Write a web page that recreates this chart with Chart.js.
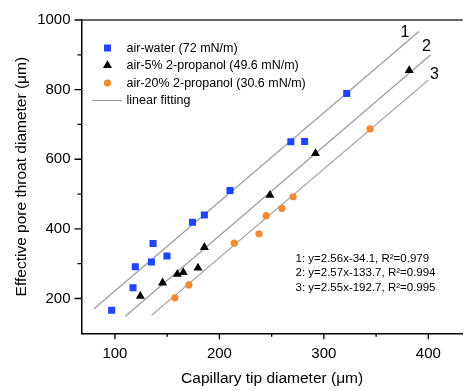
<!DOCTYPE html>
<html><head><meta charset="utf-8">
<script src="https://cdn.jsdelivr.net/npm/chart.js@4"></script>
<style>html,body{margin:0;padding:0;background:#fff;overflow:hidden}#wrap{position:relative;width:468px;height:391px}</style>
</head><body><div id="wrap"><canvas id="c"></canvas></div>
<script>
const waterX = [96.9,117.3,119.5,134.9,136.5,149.8,174.3,185.6,210.2,268.4,281.6,321.9];
const waterY = [166,231,291,305,358,322,419,440,510,650,651,789];
const prop5X = [124.3,145.6,159.8,165.4,179.5,185.6,248.4,292.0,381.7];
const prop5Y = [207,245,270,275,288,347,497,617,855];
const prop20X = [157.3,170.8,214.3,237.9,244.8,259.9,270.6,344.3];
const prop20Y = [202,239,359,386,438,459,492,687];
const fitSlope = [2.56,2.57,2.55];
const fitIntercept = [-34.1,-133.7,-192.7];
const fitR2 = ['0.979','0.994','0.995'];
const fitXStart = [80,110,135];
const fitXEnd = [391,402,400];
const seriesNames = ['air-water (72 mN/m)','air-5% 2-propanol (49.6 mN/m)','air-20% 2-propanol (30.6 mN/m)','linear fitting'];
const xTicks = [100,200,300,400];
const xMinorTicks = [150,250,350];
const yTicks = [200,400,600,800,1000];
const yMinorTicks = [300,500,700,900];

const FONT = "'Liberation Sans', Arial, sans-serif";
const BLUE = '#1f45ff', ORANGE = '#f5892f', GRAY = '#9c9c9c';

const pts = (xs, ys) => xs.map((x, i) => ({x, y: ys[i]}));
const fitDatasets = fitSlope.map((m, i) => ({
  type: 'line',
  data: [fitXStart[i], fitXEnd[i]].map(x => ({x, y: m * x + fitIntercept[i]})),
  borderColor: GRAY, borderWidth: 1.2, pointRadius: 0, fill: false, order: 5
}));

function marker(ctx, kind, x, y) {
  ctx.save();
  ctx.beginPath();
  if (kind === 'rect') { ctx.fillStyle = BLUE; ctx.rect(x - 3.5, y - 3.5, 7, 7); }
  else if (kind === 'tri') { const r = 5.2; ctx.fillStyle = '#000';
    ctx.moveTo(x, y - r); ctx.lineTo(x + r * 0.866, y + r / 2); ctx.lineTo(x - r * 0.866, y + r / 2); ctx.closePath(); }
  else { ctx.fillStyle = ORANGE; ctx.arc(x, y, 3.6, 0, Math.PI * 2); }
  ctx.fill();
  ctx.restore();
}

const decor = {
  id: 'decor',
  afterDraw(chart) {
    const {ctx, chartArea: a, scales: {x, y}} = chart;
    ctx.save();
    ctx.strokeStyle = '#333'; ctx.lineWidth = 1.5;
    ctx.beginPath(); ctx.moveTo(a.left, a.top); ctx.lineTo(a.right, a.top); ctx.stroke();
    ctx.strokeStyle = '#000'; ctx.lineWidth = 1.3;
    ctx.beginPath();
    xTicks.forEach(v => { const p = x.getPixelForValue(v); ctx.moveTo(p, a.bottom); ctx.lineTo(p, a.bottom + 6); });
    xMinorTicks.forEach(v => { const p = x.getPixelForValue(v); ctx.moveTo(p, a.bottom); ctx.lineTo(p, a.bottom + 3.5); });
    yTicks.forEach(v => { const p = y.getPixelForValue(v); ctx.moveTo(a.left, p); ctx.lineTo(a.left - 7, p); });
    yMinorTicks.forEach(v => { const p = y.getPixelForValue(v); ctx.moveTo(a.left, p); ctx.lineTo(a.left - 4, p); });
    ctx.stroke();
    const kinds = ['rect', 'tri', 'circ'];
    ctx.font = '12.5px ' + FONT; ctx.fillStyle = '#000'; ctx.textBaseline = 'middle'; ctx.textAlign = 'left';
    seriesNames.forEach((s, i) => {
      const ly = a.top + 28 + i * 17.5;
      if (i < 3) marker(ctx, kinds[i], 107.5, ly);
      else { ctx.save(); ctx.strokeStyle = GRAY; ctx.lineWidth = 1.2; ctx.beginPath(); ctx.moveTo(92, ly); ctx.lineTo(122, ly); ctx.stroke(); ctx.restore(); }
      ctx.fillText(s, 126.5, ly + 0.5);
    });
    ctx.font = '11.5px ' + FONT;
    fitSlope.forEach((m, i) => {
      const b = fitIntercept[i];
      const t = (i + 1) + ': y=' + m.toFixed(2) + 'x' + (b < 0 ? '-' : '+') + Math.abs(b).toFixed(1) + ', R\u00B2=' + fitR2[i];
      ctx.fillText(t, 295.5, 258.5 + i * 14.7);
    });
    ctx.font = '16px ' + FONT; ctx.textAlign = 'center';
    const offs = [[-14, 1], [-4, -8.5], [6, -5.5]];
    fitSlope.forEach((m, i) => {
      const xe = fitXEnd[i], ye = m * xe + fitIntercept[i];
      ctx.fillText(String(i + 1), x.getPixelForValue(xe) + offs[i][0], y.getPixelForValue(ye) + offs[i][1]);
    });
    ctx.restore();
  }
};

new Chart(document.getElementById('c'), {
  type: 'scatter',
  data: {
    datasets: [
      {label: seriesNames[0], data: pts(waterX, waterY), pointStyle: 'rect', pointRadius: 5, backgroundColor: BLUE, borderWidth: 0, order: 1},
      {label: seriesNames[1], data: pts(prop5X, prop5Y), pointStyle: 'triangle', pointRadius: 5.2, backgroundColor: '#000', borderWidth: 0, order: 1},
      {label: seriesNames[2], data: pts(prop20X, prop20Y), pointStyle: 'circle', pointRadius: 3.6, backgroundColor: ORANGE, borderWidth: 0, order: 1},
      ...fitDatasets
    ]
  },
  options: {
    responsive: true, maintainAspectRatio: false, animation: false,
    layout: {padding: {top: 15.5, right: 0, left: 0, bottom: 0}},
    plugins: {legend: {display: false}, tooltip: {enabled: false}},
    scales: {
      x: {
        type: 'linear', min: 68, max: 433,
        afterBuildTicks: s => { s.ticks = xTicks.map(v => ({value: v})); },
        afterFit: s => { s.height = 57.7; },
        ticks: {font: {family: FONT, size: 15}, color: '#000', padding: 12, maxRotation: 0, callback: v => String(v)},
        grid: {display: true, drawOnChartArea: false, drawTicks: false, color: 'rgba(0,0,0,0)'},
        border: {display: true, color: '#000', width: 1.5},
        title: {display: true, text: 'Capillary tip diameter (\u03BCm)', font: {family: FONT, size: 15.5}, color: '#000', padding: {top: 0, bottom: 3}}
      },
      y: {
        type: 'linear', min: 100, max: 1000,
        afterBuildTicks: s => { s.ticks = yTicks.map(v => ({value: v})); },
        afterFit: s => { s.width = 81.5; },
        ticks: {font: {family: FONT, size: 15}, color: '#000', padding: 11, callback: v => String(v)},
        grid: {display: true, drawOnChartArea: false, drawTicks: false, color: 'rgba(0,0,0,0)'},
        border: {display: true, color: '#000', width: 1.5},
        title: {display: true, text: 'Effective pore throat diameter (\u03BCm)', font: {family: FONT, size: 15.5}, color: '#000', padding: {top: 12, bottom: 0}}
      }
    }
  },
  plugins: [decor]
});
</script></body></html>
